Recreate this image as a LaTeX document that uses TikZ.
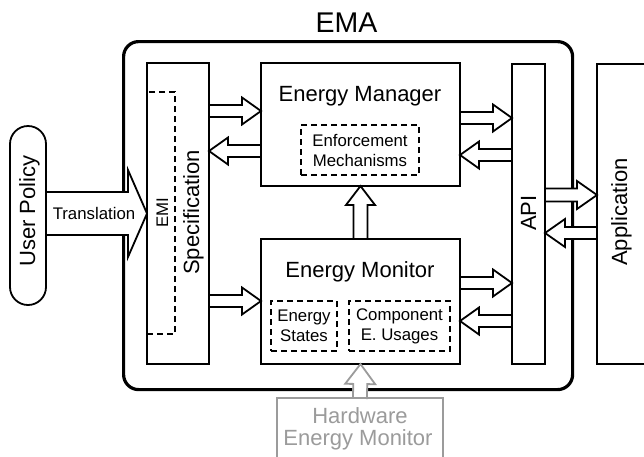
\documentclass[tikz,border=0pt]{standalone}
\usepackage{fontspec}
\setmainfont{Liberation Sans}
\usetikzlibrary{calc}
\definecolor{hwgray}{RGB}{155,155,155}
\newcommand\bigf{\fontsize{22}{24}\selectfont}
\newcommand\smallf{\fontsize{16.8}{20}\selectfont}
\newcommand\emaf{\fontsize{28.5}{30}\selectfont}
\tikzset{
  box/.style={draw, line width=1.8pt, fill=white, anchor=north west, inner sep=0pt, outer sep=0pt},
  dbox/.style={draw, line width=1.8pt, dash pattern=on 6pt off 4pt, anchor=north west, inner sep=0pt, outer sep=0pt, font=\smallf, align=center},
  barr/.style={draw, line width=1.8pt, fill=white, line join=miter},
  lbl/.style={inner sep=0pt, font=\bigf},
  rlbl/.style={inner sep=0pt, font=\bigf, rotate=90, anchor=base},
}
% block arrow: [opts]{from}{to}{shaft half}{head half}{head length}
\newcommand\barrow[6][]{%
  \coordinate (ba) at (#2);
  \coordinate (bb) at (#3);
  \coordinate (bh) at ($(bb)!#6!(ba)$);
  \draw[barr,#1] ($(ba)!#4!90:(bb)$) -- ($(bh)!#4!90:(bb)$) -- ($(bh)!#5!90:(bb)$) -- (bb)
    -- ($(bh)!#5!-90:(bb)$) -- ($(bh)!#4!-90:(bb)$) -- ($(ba)!#4!-90:(bb)$) -- cycle;}
\begin{document}
\begin{tikzpicture}[x=1pt,y=-1pt]
\useasboundingbox (0,0) rectangle (644,456);
% EMA container
\node[draw, line width=3.2pt, rounded corners=15pt, minimum width=449pt, minimum height=348pt, anchor=north west, inner sep=0pt] (ema) at (122,40) {};
\node[inner sep=0pt, font=\emaf, anchor=base] (ematl) at (346.5,32) {EMA};
% boxes
\node[box, minimum width=62pt, minimum height=301pt] (spec) at (147,63) {};
\node[dbox, minimum width=28pt, minimum height=242pt] (emi) at (147,92) {};
\node[box, minimum width=199pt, minimum height=123pt] (em) at (261,63) {};
\node[dbox, minimum width=118pt, minimum height=50pt] (enf) at (301,125) {Enforcement\\Mechanisms};
\node[box, minimum width=199pt, minimum height=125pt] (mon) at (261,239) {};
\node[dbox, minimum width=66pt, minimum height=50pt] (est) at (271,301) {Energy\\States};
\node[dbox, minimum width=101pt, minimum height=50pt] (comp) at (349,301) {Component\\E. Usages};
\node[box, minimum width=33pt, minimum height=300pt] (api) at (512,64) {};
\node[box, minimum width=50pt, minimum height=300pt] (app) at (597,64) {};
\node[box, rounded corners=18pt, minimum width=36pt, minimum height=179pt] (up) at (10,126) {};
\node[box, draw=hwgray, minimum width=166pt, minimum height=80pt] (hw) at (277,398) {};
% labels
\node[lbl, anchor=base] (emtl) at (360,101) {Energy Manager};
\node[lbl, anchor=base] (montl) at (360,277) {Energy Monitor};
\node[rlbl] (spect) at (199,212.5) {Specification};
\node[rlbl, font=\smallf] (emit) at (168,212.5) {EMI};
\node[rlbl] (upt) at (35,211) {User Policy};
\node[rlbl] (apit) at (536,213) {API};
\node[rlbl] (appt) at (627,212) {Application};
\node[lbl, anchor=base, text=hwgray] (hwt1) at (360,423) {Hardware};
\node[lbl, anchor=base, text=hwgray] (hwt2) at (358,445) {Energy Monitor};
% arrows
\barrow{up.east |- 0,213.5}{spec.west |- 0,213.5}{21.5pt}{43.5pt}{19pt}
\node[inner sep=0pt, font=\smallf, anchor=base] (trt) at (94,219) {Translation};
\barrow{spec.east |- 0,111}{em.west |- 0,111}{6pt}{13.5pt}{19pt}
\barrow{em.west |- 0,151}{spec.east |- 0,151}{6pt}{13.5pt}{19pt}
\barrow{spec.east |- 0,301}{mon.west |- 0,301}{6pt}{13.5pt}{19pt}
\barrow{em.east |- 0,118}{api.west |- 0,118}{6pt}{13.5pt}{19pt}
\barrow{api.west |- 0,155}{em.east |- 0,155}{6pt}{13.5pt}{19pt}
\barrow{mon.east |- 0,283}{api.west |- 0,283}{6pt}{13.5pt}{19pt}
\barrow{api.west |- 0,321}{mon.east |- 0,321}{6pt}{13.5pt}{19pt}
\barrow{api.east |- 0,195}{app.west |- 0,195}{6.5pt}{14pt}{20pt}
\barrow{app.west |- 0,233}{api.east |- 0,233}{6pt}{14pt}{20pt}
\barrow{mon.north}{em.south}{7pt}{14.5pt}{19pt}
\barrow[draw=hwgray]{hw.north}{mon.south}{7pt}{15pt}{20pt}
\end{tikzpicture}
\end{document}
